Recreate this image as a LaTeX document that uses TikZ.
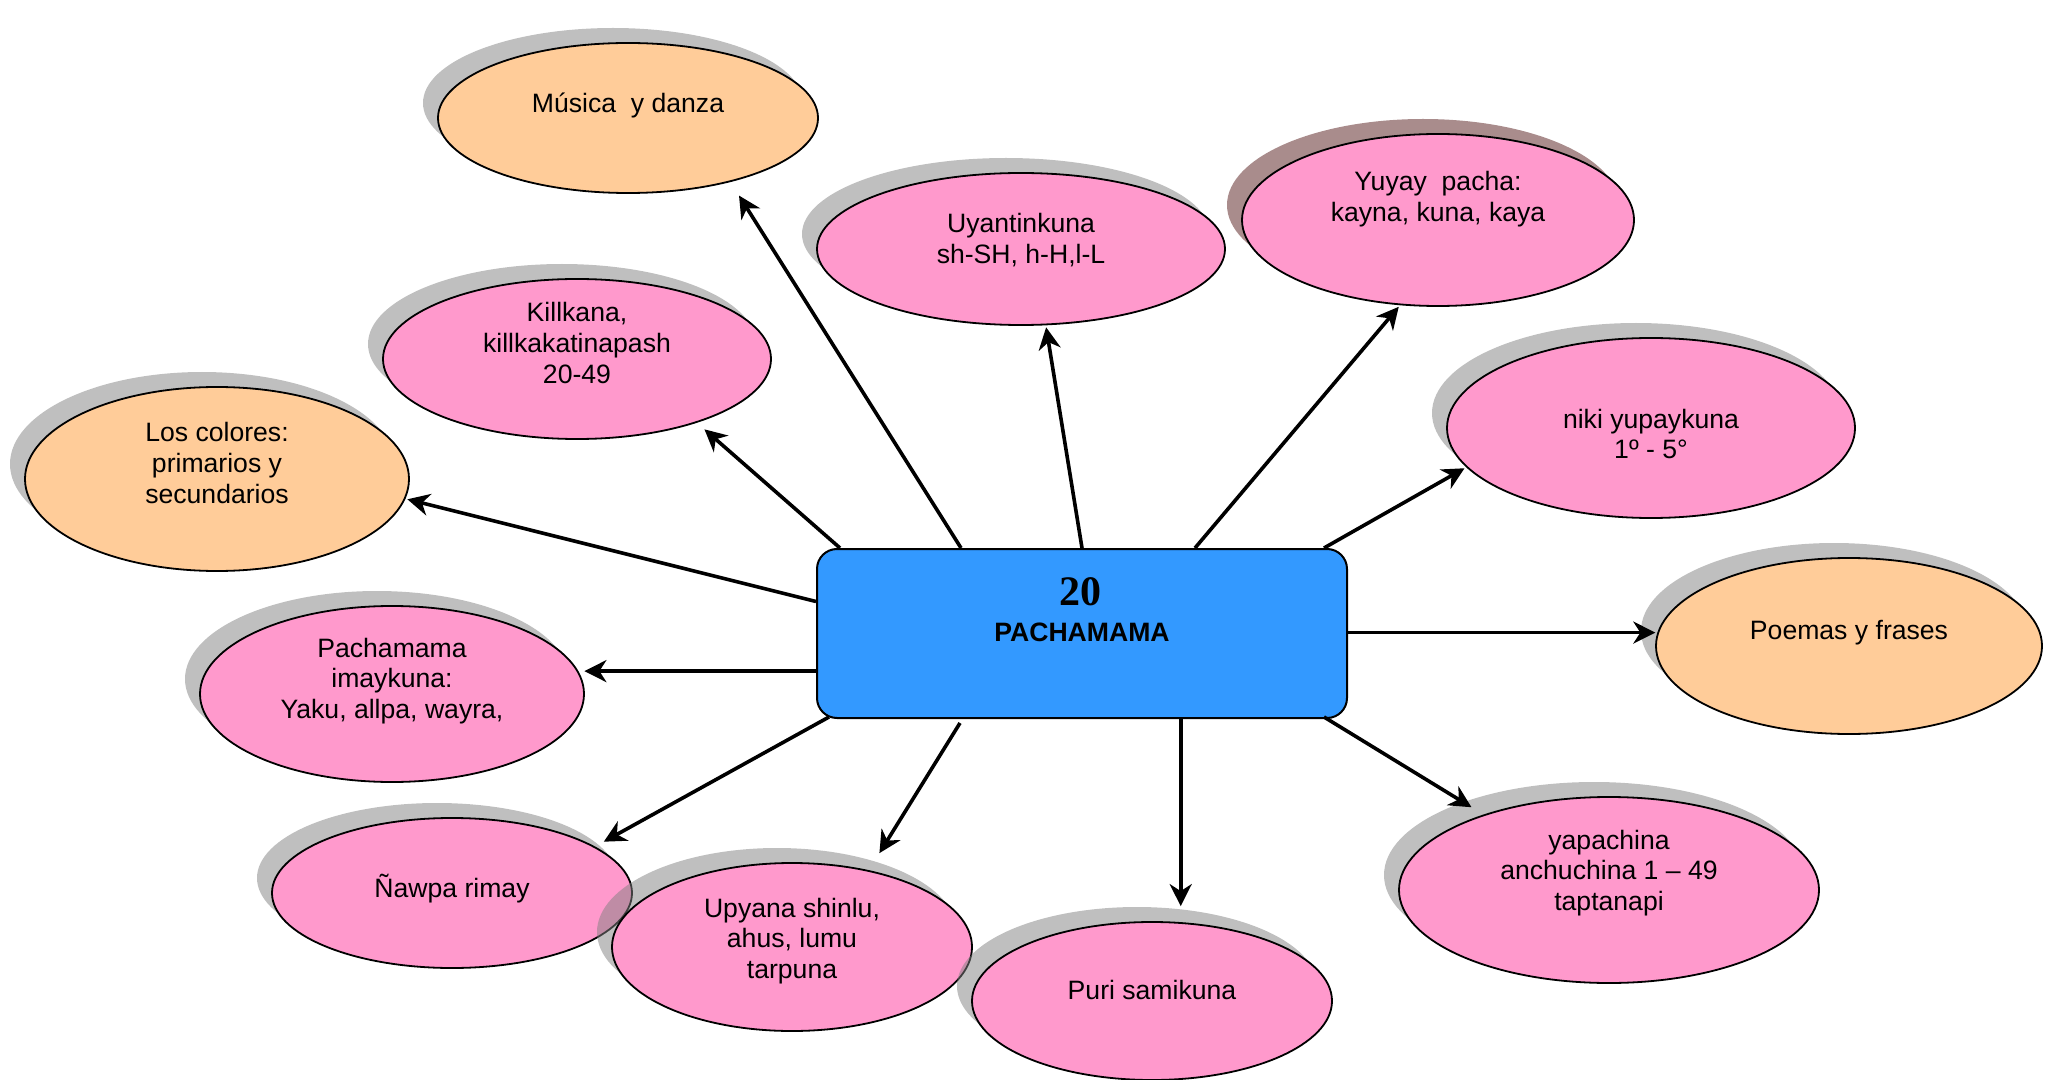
\documentclass[tikz,border=0pt]{standalone}
\usepackage{fontspec}
\setmainfont{Liberation Sans}
\newfontfamily\numfont{Liberation Serif}
\usetikzlibrary{shapes.geometric,shadows,arrows.meta,calc}
\definecolor{pinkfill}{HTML}{FF99CC}
\definecolor{peachfill}{HTML}{FFCC99}
\definecolor{hubblue}{HTML}{3399FF}
\definecolor{brownshade}{RGB}{83,25,25}
\tikzset{
    bubble/.style={ellipse, draw, line width=0.9pt, inner sep=0pt,
        drop shadow={shadow xshift=-7.5pt, shadow yshift=7.5pt, fill=#1}},
    bubble/.default=black!50,
    pinkbub/.style={bubble=#1, fill=pinkfill},
    pinkbub/.default=black!50,
    peachbub/.style={bubble, fill=peachfill},
    hub/.style={draw, line width=1pt, fill=hubblue, rounded corners=10pt,
        minimum width=265pt, minimum height=84.5pt},
    txt/.style={align=center, font=\fontsize{13.3}{15.3}\selectfont},
    arr/.style={line width=1.8pt, shorten >=1pt,
        -{Stealth[length=11pt,width=11pt,inset=3.5pt]}}
}
\begin{document}
\begin{tikzpicture}[x=0.5pt,y=-0.5pt]
    \useasboundingbox (0,0) rectangle (2050,1080);

    % outer bubbles
    \node[peachbub, minimum width=190pt, minimum height=75pt] (musica) at (628,118) {};
    \node[txt] (musica-t) at (628,105) {Música\ \ y danza};

    \node[pinkbub=brownshade, minimum width=196pt, minimum height=86pt] (yuyay) at (1438,220) {};
    \node[txt] (yuyay-t) at (1438,199) {Yuyay\ \ pacha:\\kayna, kuna, kaya};

    \node[pinkbub, minimum width=204pt, minimum height=76pt] (uyantin) at (1021,249) {};
    \node[txt] (uyantin-t) at (1021,240) {Uyantinkuna\\sh-SH, h-H,l-L};

    \node[pinkbub, minimum width=194pt, minimum height=80pt] (killkana) at (577,359) {};
    \node[txt] (killkana-t) at (577,343) {Killkana,\\killkakatinapash\\20-49};

    \node[peachbub, minimum width=192pt, minimum height=92pt] (colores) at (217,479) {};
    \node[txt] (colores-t) at (217,463) {Los colores:\\primarios y\\secundarios};

    \node[pinkbub, minimum width=204pt, minimum height=90pt] (niki) at (1651,428) {};
    \node[txt] (niki-t) at (1651,434) {niki yupaykuna\\1º - 5°};

    \node[peachbub, minimum width=193pt, minimum height=88pt] (poemas) at (1849,646) {};
    \node[txt] (poemas-t) at (1849,633) {Poemas y frases};

    \node[pinkbub, minimum width=192pt, minimum height=88pt] (imay) at (392,694) {};
    \node[txt] (imay-t) at (392,681) {Pachamama\\imaykuna:\\Yaku, allpa, wayra,};

    \node[pinkbub, minimum width=180pt, minimum height=75pt] (nawpa) at (452,893) {};
    \node[txt] (nawpa-t) at (452,889) {Ñawpa rimay};

    \node[pinkbub, minimum width=180pt, minimum height=84pt] (upyana) at (792,947) {};
    \node[txt] (upyana-t) at (792,941) {Upyana shinlu,\\ahus, lumu\\tarpuna};

    \node[pinkbub, minimum width=180pt, minimum height=79pt] (puri) at (1152,1001) {};
    \node[txt] (puri-t) at (1152,990) {Puri samikuna};

    \node[pinkbub, minimum width=210pt, minimum height=93pt] (yapachina) at (1609,890) {};
    \node[txt] (yapachina-t) at (1609,873) {yapachina\\anchuchina 1 – 49\\taptanapi};

    % centre
    \node[hub] (hub) at (1082,633.5) {};
    \node[font=\numfont\bfseries\fontsize{21}{24}\selectfont] (hub-num) at (1080,592) {20};
    \node[font=\bfseries\fontsize{13.3}{15.3}\selectfont] (hub-t) at (1082,632) {PACHAMAMA};

    % arrows
    \draw[arr, shorten >=8pt] ($(hub.north west)+(145,0)$) -- (musica.-32);
    \draw[arr] (hub.north) -- (uyantin.-72);
    \draw[arr] ($(hub.north west)+(379,0)$) -- (yuyay.-114);
    \draw[arr, shorten >=5pt] ($(hub.north west)+(24,0)$) -- (killkana.-28);
    \draw[arr] ($(hub.west)+(0,-32)$) -- (colores.-6);
    \draw[arr] ($(hub.north east)+(-24,0)$) -- (niki.192);
    \draw[arr] (poemas.176 -| hub.east) -- (poemas.176);
    \draw[arr, shorten >=3pt] (imay.7 -| hub.west) -- (imay.7);
    \draw[arr, shorten >=5pt] ($(hub.south west)+(13,-2)$) -- (nawpa.18);
    \draw[arr, shorten >=10pt] ($(hub.south west)+(144,4)$) -- (upyana.45);
    \draw[arr, shorten >=8pt] (puri.70 |- hub.south) -- (puri.70);
    \draw[arr, shorten >=7pt] ($(hub.south east)+(-24,-2)$) -- (yapachina.149);
\end{tikzpicture}
\end{document}
